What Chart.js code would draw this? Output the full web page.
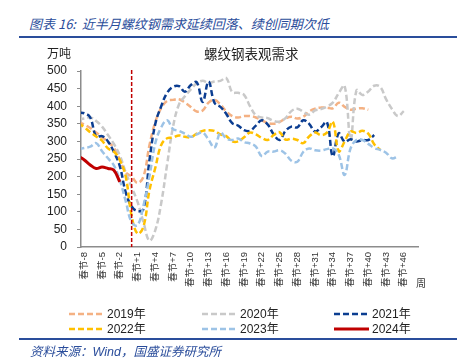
<!DOCTYPE html>
<html>
<head>
<meta charset="utf-8">
<script src="https://cdn.jsdelivr.net/npm/chart.js@4.4.1/dist/chart.umd.min.js"></script>
<style>
  body { margin: 0; width: 458px; height: 362px; position: relative; overflow: hidden; background: #fff;
         font-family: "Liberation Sans", "Noto Sans CJK SC", sans-serif; }
  .abs { position: absolute; white-space: nowrap; }
  .rule { position: absolute; left: 19px; width: 438px; height: 2px; background: #2a4d9b; }
  #chart { position: absolute; left: 0; top: 0; }
  .blue { color: #2a4d9b; font-style: italic; font-family: "Noto Sans CJK SC", sans-serif; }
  .lg { position: absolute; font-size: 12px; color: #222; line-height: 14px; }
  .lg svg { position: absolute; top: 0; }
</style>
</head>
<body>
<div class="abs blue" style="left:29px;top:14px;font-size:13px;">图表 16:&nbsp; 近半月螺纹钢需求延续回落、续创同期次低</div>
<div class="rule" style="top:36px"></div>
<canvas id="chart" width="458" height="362"></canvas>
<div class="abs" style="left:47px;top:44px;font-size:12px;color:#222;font-family:'Noto Sans CJK SC'">万吨</div>
<div class="abs" style="left:204px;top:43px;font-size:13.5px;color:#222;font-family:'Noto Sans CJK SC'">螺纹钢表观需求</div>
<div class="abs" style="left:416px;top:275px;font-size:10px;color:#333;font-family:'Noto Sans CJK SC'">周</div>
<div id="legend"></div>
<div class="rule" style="top:338px"></div>
<div class="abs blue" style="left:30px;top:341px;font-size:12.5px;">资料来源：<span style="font-family:'Liberation Sans'">Wind</span>，国盛证券研究所</div>

<script>
// weeks relative to Spring Festival (春节), each series starts at week -9
const weeks = [];
for (let w = -9; w <= 46; w++) weeks.push(w);
const tickWeeks = [-8, -5, -2, 1, 4, 7, 10, 13, 16, 19, 22, 25, 28, 31, 34, 37, 40, 43, 46];
const springFestivalWeek = 0;

// apparent demand, 万吨
const y2019 = [355, 348, 338, 325, 312, 298, 282, 248, 212, 200, 182, 200, 288, 355, 395, 415, 418, 420, 410, 398,
  385, 388, 410, 418, 405, 385, 372, 368, 372, 372, 368, 360, 352, 350, 355, 365, 370, 365, 370, 385,
  393, 396, 396, 394, 410, 398, 390, 393, 394, 390];
const y2020 = [362, 365, 368, 358, 342, 318, 293, 260, 212, 170, 128, 70, 18, 48, 125, 235, 342, 405, 428, 448,
  465, 472, 466, 470, 472, 480, 440, 438, 432, 400, 374, 368, 366, 358, 356, 366, 386, 393, 384, 376,
  388, 392, 399, 410, 437, 458, 305, 445, 432, 442, 458, 455, 420, 392, 372, 386];
const y2021 = [382, 380, 368, 314, 315, 300, 270, 230, 155, 115, 102, 108, 245, 350, 400, 438, 455, 457, 441, 460,
  468, 412, 470, 410, 398, 378, 352, 345, 332, 330, 345, 360, 348, 320, 304, 330, 342, 340, 360, 350,
  328, 340, 355, 258, 323, 299, 306, 300, 304, 304, 318];
const y2022 = [352, 340, 326, 314, 302, 280, 271, 247, 200, 88, 38, 58, 160, 225, 290, 309, 311, 317, 313, 312,
  322, 330, 332, 330, 320, 315, 300, 300, 312, 325, 320, 310, 304, 318, 326, 305, 308, 304, 295, 314,
  325, 318, 325, 356, 272, 300, 328, 324, 330, 322, 292, 276];
const y2023 = [278, 281, 285, 295, 272, 252, 232, 190, 130, 70, 62, 118, 200, 295, 340, 360, 335, 330, 322, 313,
  320, 325, 305, 282, 325, 308, 304, 308, 298, 294, 285, 258, 271, 271, 275, 265, 245, 242, 270, 280,
  275, 274, 278, 280, 262, 205, 280, 304, 304, 293, 281, 276, 268, 252, 258];
const y2024 = [258, 247, 233, 223, 227, 223, 218, 185];

const seriesNames = ['2019年', '2020年', '2021年', '2022年', '2023年', '2024年'];
const seriesData = [y2019, y2020, y2021, y2022, y2023, y2024];
const seriesColors = ['#f4b183', '#c9c9c9', '#0b3d91', '#ffc000', '#9dc3e6', '#c00000'];
const seriesDash = [[6, 3], [6, 3], [6, 3], [6, 3], [6, 3], []];

function toPoints(values) {
  return values.map((v, i) => ({ x: weeks[i], y: v }));
}

// Dashed red line at Spring Festival
const springLine = {
  id: 'springLine',
  afterDatasetsDraw(chart) {
    const { ctx, chartArea, scales } = chart;
    const x = scales.x.getPixelForValue(springFestivalWeek);
    ctx.save();
    ctx.strokeStyle = '#c00000';
    ctx.lineWidth = 1.5;
    ctx.setLineDash([4, 2]);
    ctx.beginPath();
    ctx.moveTo(x, chartArea.top - 1);
    ctx.lineTo(x, chartArea.bottom);
    ctx.stroke();
    ctx.restore();
  }
};

const datasets = seriesNames.map((name, i) => ({
  label: name,
  data: toPoints(seriesData[i]),
  borderColor: seriesColors[i],
  borderWidth: i === 5 ? 3 : 2.5,
  borderDash: seriesDash[i],
  pointRadius: 0,
  tension: 0.4,
  fill: false,
  order: 6 - i
}));

new Chart(document.getElementById('chart'), {
  type: 'line',
  data: { datasets },
  options: {
    responsive: false,
    animation: false,
    layout: { padding: { top: 71, right: 40, bottom: 75, left: 0 } },
    plugins: { legend: { display: false }, tooltip: { enabled: false } },
    scales: {
      x: {
        type: 'linear',
        min: -8.56,
        max: 48.4,
        afterBuildTicks(scale) {
          scale.ticks = tickWeeks.map(v => ({ value: v }));
        },
        afterFit(scale) { scale.height = 40; },
        grid: { display: false, drawTicks: false },
        border: { color: '#8c8c8c', width: 1.5 },
        ticks: {
          autoSkip: false,
          minRotation: 90,
          maxRotation: 90,
          padding: 5,
          color: '#333',
          font: { size: 9.5, family: '"Liberation Sans", "Noto Sans CJK SC"' },
          callback: v => '春节' + (v > 0 ? '+' : '') + v
        }
      },
      y: {
        min: 0,
        max: 500,
        afterFit(scale) { scale.width = 81; },
        grid: { drawOnChartArea: false, tickLength: 4, color: '#8c8c8c' },
        border: { color: '#8c8c8c', width: 1.5 },
        ticks: {
          stepSize: 50,
          padding: 10,
          color: '#222',
          font: { size: 12, family: '"Liberation Sans"' }
        }
      }
    }
  },
  plugins: [springLine]
});

// HTML legend, 3 columns x 2 rows
const legendPos = [[69, 307], [202, 307], [334, 307], [69, 322], [202, 322], [334, 322]];
const legend = document.getElementById('legend');
seriesNames.forEach((name, i) => {
  const [lx, ly] = legendPos[i];
  const item = document.createElement('div');
  item.className = 'lg';
  item.style.left = lx + 'px';
  item.style.top = ly + 'px';
  const dash = seriesDash[i].length ? `stroke-dasharray="${seriesDash[i].join(' ')}"` : '';
  item.innerHTML = `<svg width="36" height="14" style="left:0"><line x1="0" y1="7" x2="35" y2="7" stroke="${seriesColors[i]}" stroke-width="${i === 5 ? 3 : 2.5}" ${dash}/></svg><span style="margin-left:38px">${name}</span>`;
  legend.appendChild(item);
});
</script>
</body>
</html>
